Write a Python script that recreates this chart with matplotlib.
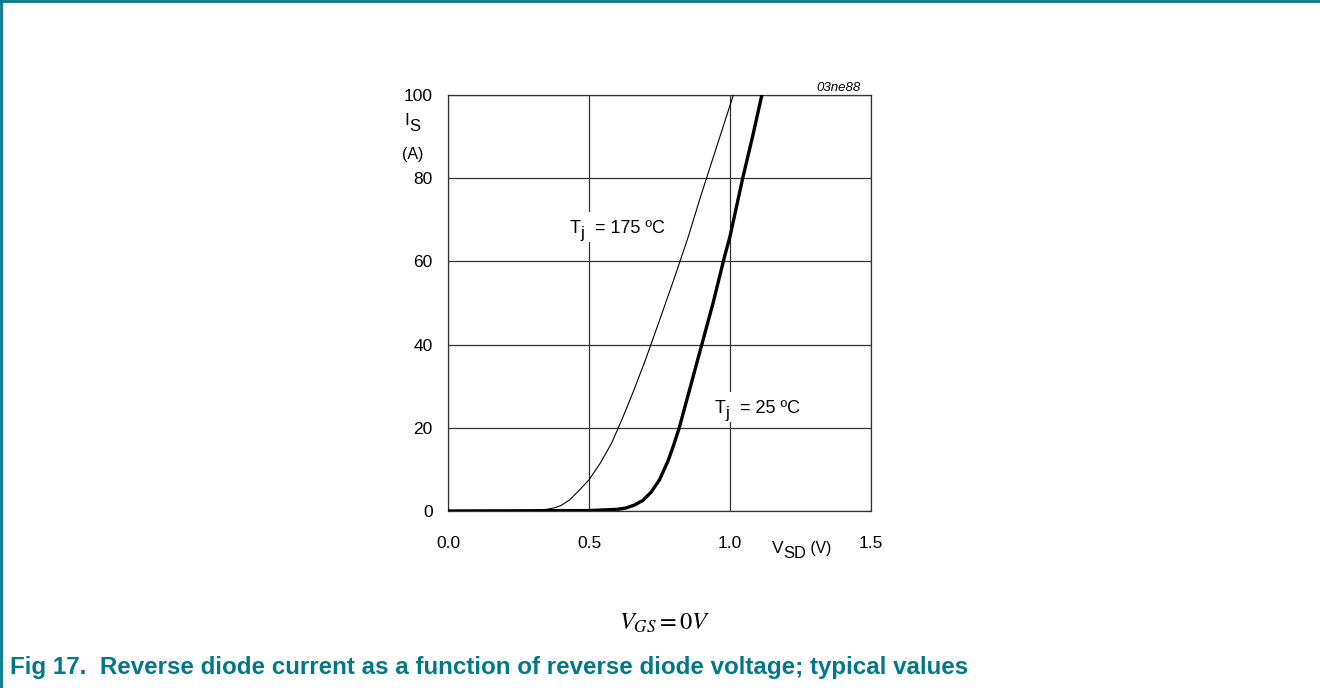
import matplotlib
matplotlib.use("Agg")
import matplotlib.pyplot as plt
from matplotlib.lines import Line2D
from matplotlib.patches import Rectangle

plt.rcParams['font.family'] = ['Liberation Sans', 'DejaVu Sans']

# Data
v_175 = [0.0, 0.25, 0.3, 0.35, 0.38, 0.4, 0.43, 0.46, 0.5, 0.54, 0.58, 0.62, 0.66, 0.7, 0.75,
         0.8, 0.85, 0.9, 0.95, 1.0, 1.012]
i_175 = [0.0, 0.0, 0.15, 0.4, 0.8, 1.3, 2.6, 4.6, 7.5, 11.5, 16.3, 22.5, 29.2, 36.3, 45.8,
         55.5, 65.5, 76.5, 87.0, 97.5, 100.0]
v_25 = [0.0, 0.5, 0.6, 0.63, 0.66, 0.69, 0.72, 0.75, 0.78, 0.8, 0.82, 0.86, 0.9, 0.94, 0.98,
        1.0, 1.045, 1.08, 1.113]
i_25 = [0.0, 0.1, 0.4, 0.7, 1.4, 2.5, 4.5, 7.5, 12.0, 15.8, 20.0, 30.0, 40.0, 50.0, 61.0,
        66.0, 80.0, 90.0, 100.0]
x_ticks = [0.0, 0.5, 1.0, 1.5]
x_tick_labels = ["0.0", "0.5", "1.0", "1.5"]
y_ticks = [0, 20, 40, 60, 80, 100]
y_tick_labels = ["0", "20", "40", "60", "80", "100"]

W, H = 1320, 688
fig = plt.figure(figsize=(W / 100, H / 100), dpi=100)
teal = '#00788a'
renderer = fig.canvas.get_renderer()


def fx(px):
    return px / W


def fy(py):
    return 1 - py / H


def rich(x, y, parts, size, bg=False, **kw):
    """parts: list of (text, dy_px, scale). x,y pixel (top-left origin), y = baseline."""
    x_start = x
    for s, dy, sc in parts:
        t = fig.text(fx(x), fy(y + dy), s, fontsize=size * sc, va='baseline', ha='left', zorder=5, **kw)
        bb = t.get_window_extent(renderer)
        x += bb.width
    if bg:
        fig.add_artist(Rectangle((fx(x_start - 3), fy(y + 9)), (x - x_start + 6) / W, 30 / H,
                                 transform=fig.transFigure, facecolor='white', edgecolor='none', zorder=4))
    return x


# border lines (top and left)
fig.add_artist(Line2D([0, 1], [1 - 1/H, 1 - 1/H], color=teal, lw=2, transform=fig.transFigure))
fig.add_artist(Line2D([1/W, 1/W], [0, 1], color=teal, lw=2, transform=fig.transFigure))

x0, x1 = 448, 871
y0, y1 = 511, 95
ax = fig.add_axes([x0 / W, 1 - y0 / H, (x1 - x0) / W, (y0 - y1) / H])
ax.set_xlim(0, 1.5)
ax.set_ylim(0, 100)
ax.set_xticks(x_ticks)
ax.set_yticks(y_ticks)
ax.set_xticklabels(x_tick_labels)
ax.set_yticklabels(y_tick_labels)
ax.tick_params(length=0, labelsize=12.5)
ax.tick_params(axis='x', pad=18)
ax.tick_params(axis='y', pad=11)
ax.grid(True, color='#333333', lw=0.9)
for s in ax.spines.values():
    s.set_color('#333333')
    s.set_linewidth(0.9)

ax.plot(v_175, i_175, color='black', lw=0.8, zorder=3, solid_joinstyle='round')
ax.plot(v_25, i_25, color='black', lw=2.4, zorder=3, solid_capstyle='butt', solid_joinstyle='round')

# curve labels
rich(570, 233, [('T', 0, 1), ('j', 5, 0.95), ('  = 175 ºC', 0, 1)], 13, bg=True)
rich(715, 413, [('T', 0, 1), ('j', 5, 0.95), ('  = 25 ºC', 0, 1)], 13, bg=True)

# axis labels
rich(404, 125, [('I', 0, 1), ('S', 6, 0.95)], 12.5)
rich(402, 159, [('(A)', 0, 1)], 11.5)
rich(772, 553, [('V', 0, 1), ('SD', 5, 0.95), (' (V)', 0, 0.9)], 12.5)
fig.text(fx(861), fy(91), '03ne88', fontsize=9.5, style='italic', ha='right', va='baseline')

fig.text(fx(665), fy(630), r'$V_{GS} = 0V$', fontsize=17.5, ha='center', va='baseline',
         math_fontfamily='stix')
fig.text(fx(10), fy(674), 'Fig 17.  Reverse diode current as a function of reverse diode voltage; typical values',
         fontsize=17.4, fontweight='bold', color=teal, ha='left', va='baseline')

fig.savefig('out.png', dpi=100)
